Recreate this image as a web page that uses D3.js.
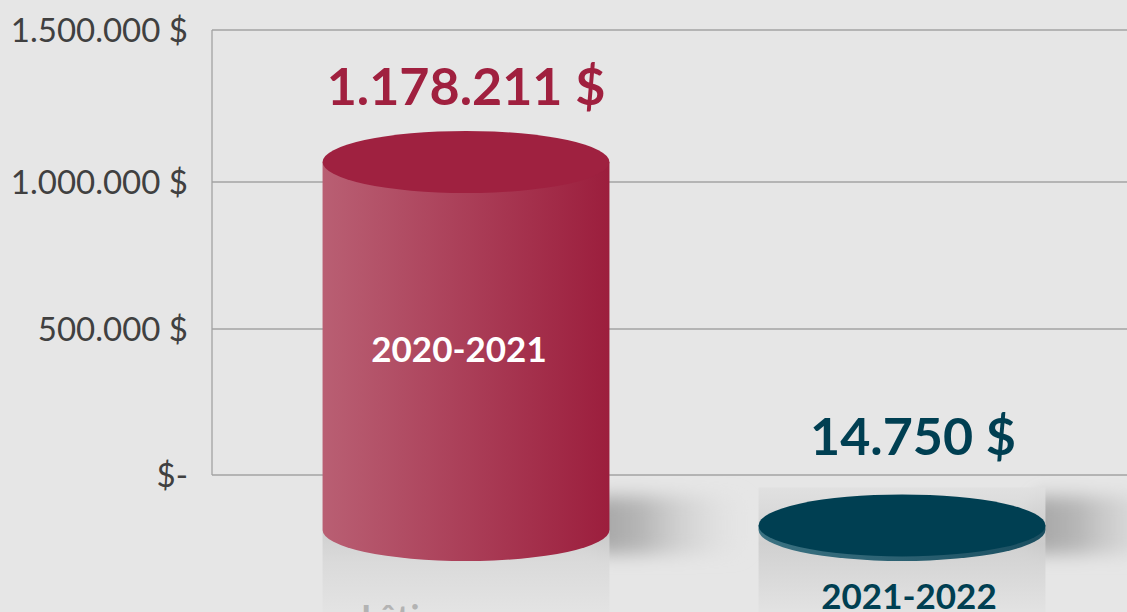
<!DOCTYPE html>
<html><head><meta charset="utf-8">
<script src="https://cdn.jsdelivr.net/npm/d3@7"></script>
<style>html,body{margin:0;padding:0;background:#e6e6e6;overflow:hidden}svg{display:block}</style>
</head><body>
<svg id="c" width="1127" height="612"></svg>
<script>
const categories = ["2020-2021", "2021-2022"];
const values = [1178211, 14750];
const valueLabels = ["1.178.211 $", "14.750 $"];
const tickValues = [0, 500000, 1000000, 1500000];
const tickLabels = ["$-", "500.000 $", "1.000.000 $", "1.500.000 $"];
const ghostLabel = "Lêti";

const W = 1127, H = 612;
const svg = d3.select("#c");
const defs = svg.append("defs");

svg.append("rect").attr("width", W).attr("height", H).attr("fill", "#e6e6e6");

// axis scale (back wall), slight perspective: polylinear
const y = d3.scaleLinear().domain(tickValues).range([475, 329, 182, 30]);
// bar (front) scale
const yBar = d3.scaleLinear().domain([0, 1500000]).range([530, 61.5]);
const x = d3.scaleBand().domain(categories).range([248, 1120]).paddingInner(0.342).paddingOuter(0.171);

// gridlines
const grid = svg.append("g");
grid.selectAll("line").data(tickValues).join("line")
  .attr("x1", 212).attr("x2", W)
  .attr("y1", d => y(d)).attr("y2", d => y(d))
  .attr("stroke", "#a3a3a3").attr("stroke-width", 1.3);
grid.append("line").attr("x1", 212).attr("x2", 212).attr("y1", y(1500000)).attr("y2", y(0))
  .attr("stroke", "#a3a3a3").attr("stroke-width", 1.3);

// y axis labels
const axis = d3.axisLeft(y).tickValues(tickValues).tickSize(0).tickPadding(0)
  .tickFormat((d, i) => tickLabels[i]);
const ax = svg.append("g").attr("transform", "translate(188,0)").call(axis);
ax.select(".domain").remove();
ax.selectAll("text").attr("font-family", "Lato").attr("font-size", 33).attr("fill", "#404040")
  .attr("dy", "0.35em").attr("x", 0);

// filters and gradients
const blur = defs.append("filter").attr("id", "blur").attr("x", "-30%").attr("y", "-100%").attr("width", "160%").attr("height", "300%");
blur.append("feGaussianBlur").attr("stdDeviation", "6 9");

const refl = defs.append("linearGradient").attr("id", "refl0").attr("x1", 0).attr("y1", 0).attr("x2", 0).attr("y2", 1);
refl.append("stop").attr("offset", 0).attr("stop-color", "#cdcdcd");
refl.append("stop").attr("offset", 0.4).attr("stop-color", "#d9d9d9");
refl.append("stop").attr("offset", 1).attr("stop-color", "#e3e3e3");
const refl1 = defs.append("linearGradient").attr("id", "refl1").attr("x1", 0).attr("y1", 0).attr("x2", 0).attr("y2", 1);
refl1.append("stop").attr("offset", 0).attr("stop-color", "#e0e0e0");
refl1.append("stop").attr("offset", 0.45).attr("stop-color", "#cecece");
refl1.append("stop").attr("offset", 1).attr("stop-color", "#e2e2e2");

const shadowG = defs.append("linearGradient").attr("id", "shadowG").attr("x1", 0).attr("y1", 0).attr("x2", 1).attr("y2", 0);
shadowG.append("stop").attr("offset", 0).attr("stop-color", "#a2a2a2").attr("stop-opacity", 1);
shadowG.append("stop").attr("offset", 0.3).attr("stop-color", "#b0b0b0").attr("stop-opacity", 0.9);
shadowG.append("stop").attr("offset", 1).attr("stop-color", "#e6e6e6").attr("stop-opacity", 0);

const sideCols = [["#b95f73", "#9c1e3d"], ["#3b7282", "#1a4e60"]];
const topCols = ["#9f2140", "#003f52"];
const valueCols = ["#a0203f", "#003f52"];
sideCols.forEach((c, i) => {
  const g = defs.append("linearGradient").attr("id", "side" + i).attr("x1", 0).attr("y1", 0).attr("x2", 1).attr("y2", 0);
  g.append("stop").attr("offset", 0).attr("stop-color", c[0]);
  g.append("stop").attr("offset", 1).attr("stop-color", c[1]);
});

const ry = 31;
const bars = svg.append("g");
categories.forEach((cat, i) => {
  const x0 = x(cat), bw = x.bandwidth(), cx = x0 + bw / 2, rx = bw / 2;
  const yb = yBar(0), yt = yBar(values[i]);
  const g = bars.append("g");
  // shadow to the right
  g.append("rect").attr("x", x0 + bw - 20).attr("y", yb - 34).attr("width", 170).attr("height", 58)
    .attr("rx", 22)
    .attr("fill", "url(#shadowG)").attr("filter", "url(#blur)");
  // reflection under
  const ry0 = i === 1 ? yt - 38 : yb;
  g.append("rect").attr("x", x0).attr("y", ry0).attr("width", bw)
    .attr("height", H - ry0).attr("fill", `url(#refl${i})`).attr("opacity", 0.9);
  // side
  g.append("path")
    .attr("d", `M${x0},${yt} L${x0},${yb} A${rx},${ry} 0 0 0 ${x0 + bw},${yb} L${x0 + bw},${yt} Z`)
    .attr("fill", `url(#side${i})`);
  // top
  g.append("ellipse").attr("cx", cx).attr("cy", yt).attr("rx", rx).attr("ry", ry)
    .attr("fill", topCols[i]);
  // value label
  svg.append("text").attr("x", i === 0 ? cx : cx + 11).attr("y", i === 0 ? 105 : 455)
    .attr("text-anchor", "middle").attr("font-family", "Lato").attr("font-weight", "bold")
    .attr("font-size", 52).attr("fill", valueCols[i]).text(valueLabels[i]);
});

// category labels
svg.append("text").attr("x", x(categories[0]) + x.bandwidth() / 2 - 7).attr("y", 362)
  .attr("text-anchor", "middle").attr("font-family", "Lato").attr("font-weight", "bold")
  .attr("font-size", 35).attr("fill", "#ffffff").text(categories[0]);
svg.append("text").attr("x", x(categories[1]) + x.bandwidth() / 2 + 7).attr("y", 609)
  .attr("text-anchor", "middle").attr("font-family", "Lato").attr("font-weight", "bold")
  .attr("font-size", 35).attr("fill", "#003f52").text(categories[1]);
// ghost label
svg.append("text").attr("x", 361).attr("y", 630)
  .attr("font-family", "Lato").attr("font-weight", "bold")
  .attr("font-size", 35).attr("fill", "#b3b3b3").text(ghostLabel);
</script>
</body></html>
